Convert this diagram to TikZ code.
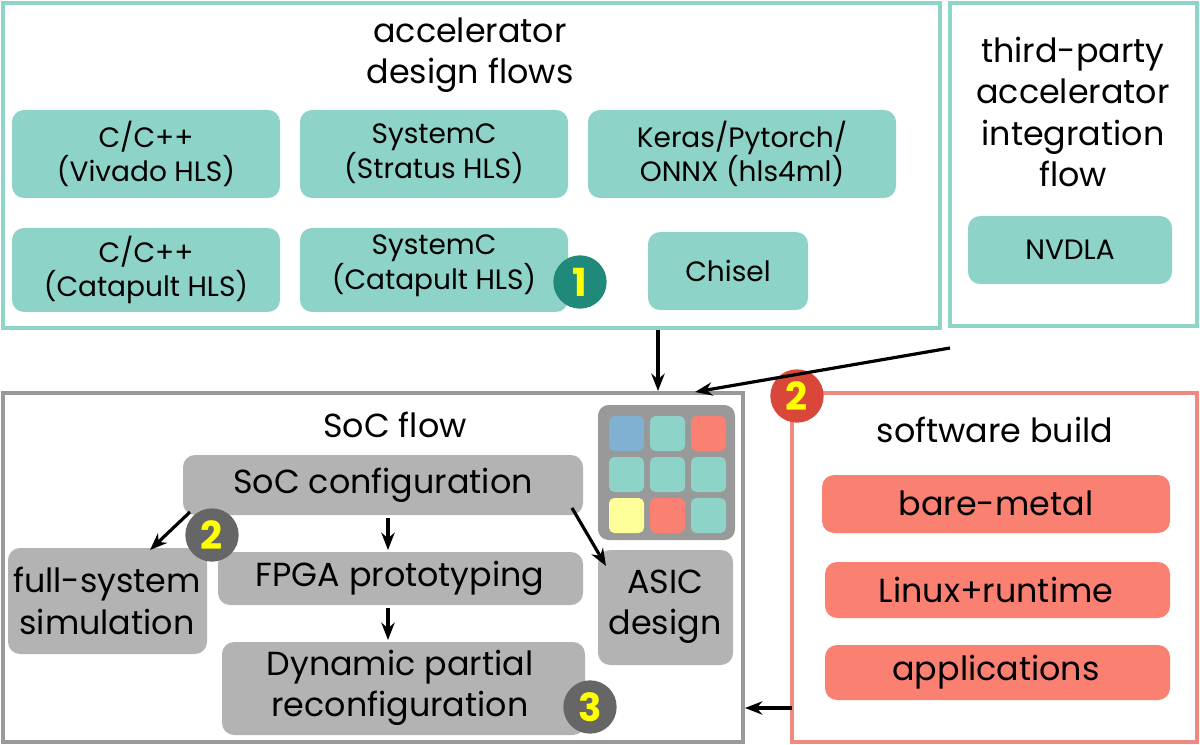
\documentclass[tikz,border=0pt]{standalone}
\usepackage{fontspec}
\setmainfont{Poppins}
\usetikzlibrary{arrows.meta}
\definecolor{teal1}{HTML}{8DD3C7}
\definecolor{tealb}{HTML}{8FD4C8}
\definecolor{gry}{HTML}{B3B3B3}
\definecolor{grb}{HTML}{999999}
\definecolor{sal}{HTML}{FA8072}
\definecolor{salb}{HTML}{F08A80}
\definecolor{bl}{HTML}{80B1D3}
\definecolor{yl}{HTML}{FFFF99}
\definecolor{ylt}{HTML}{FFFF00}
\definecolor{dteal}{HTML}{1F8A7A}
\definecolor{dgray}{HTML}{666666}
\definecolor{dred}{HTML}{D9473A}
\begin{document}
\begin{tikzpicture}[x=0.75pt,y=-0.75pt,
 frame/.style={draw=#1,line width=3pt},
 tbox/.style={fill=teal1,rounded corners=9pt,inner sep=0pt},
 gbox/.style={fill=gry,rounded corners=9pt,inner sep=0pt},
 sbox/.style={fill=sal,rounded corners=9pt,inner sep=0pt},
 lbl/.style={align=center,font=\fontsize{21}{25}\selectfont},
 big/.style={align=center,font=\fontsize{25}{31}\selectfont},
 badge/.style={circle,fill=#1,minimum size=40pt,inner sep=0pt,text=ylt,font=\fontsize{29}{29}\selectfont\bfseries},
 arr/.style={-{Stealth[length=13pt,width=10pt]},line width=2.4pt}]
\useasboundingbox (0,0) rectangle (1200,745);
% accelerator design flows
\draw[frame=tealb] (3,3) rectangle (940,328);
\node[big] (acct) at (470,55) {accelerator\\design flows};
\fill[tbox] (12,110) rectangle (280,198); \node[lbl] (a1) at (146,154) {C/C++\\(Vivado HLS)};
\fill[tbox] (300,110) rectangle (568,198); \node[lbl] (a2) at (434,154) {SystemC\\(Stratus HLS)};
\fill[tbox] (588,110) rectangle (896,198); \node[lbl] (a3) at (742,154) {Keras/Pytorch/\\ONNX (hls4ml)};
\fill[tbox] (12,228) rectangle (280,312); \node[lbl] (a4) at (146,270) {C/C++\\(Catapult HLS)};
\fill[tbox] (300,228) rectangle (568,312); \node[lbl] (a5) at (434,266) {SystemC\\(Catapult HLS)};
\fill[tbox] (648,232) rectangle (808,310); \node[lbl] (a6) at (728,271) {Chisel};
\node[badge=dteal] (b1) at (580,282) {1};
% third party
\draw[frame=tealb] (950,3) rectangle (1197,326);
\node[big] (tpt) at (1073,112) {third-party\\accelerator\\integration\\flow};
\fill[tbox] (968,216) rectangle (1172,284); \node[lbl] (nv) at (1070,250) {NVDLA};
% SoC
\draw[frame=grb] (3,393) rectangle (743,742);
\node[big] (soct) at (395,425) {SoC flow};
\fill[grb,rounded corners=8pt] (598,405) rectangle (735,540);
\foreach \c [count=\i from 0] in {bl,teal1,sal,teal1,teal1,teal1,yl,sal,teal1}{
 \pgfmathtruncatemacro{\cx}{mod(\i,3)}\pgfmathtruncatemacro{\cy}{div(\i,3)}
 \fill[\c,rounded corners=4pt] (609+\cx*41,416+\cy*41) rectangle ++(35,35);}
\fill[gbox] (183,455) rectangle (583,515); \node[big] (cfg) at (383,485) {SoC configuration};
\fill[gbox] (8,548) rectangle (207,654); \node[big] (sim) at (107,601) {full-system\\simulation};
\fill[gbox] (218,552) rectangle (583,605); \node[big] (fpga) at (400,578) {FPGA prototyping};
\fill[gbox] (598,550) rectangle (733,665); \node[big] (asic) at (665,607) {ASIC\\design};
\fill[gbox] (222,642) rectangle (585,735); \node[big] (dpr) at (400,688) {Dynamic partial\\reconfiguration};
\node[badge=dgray] (b2) at (212,535) {2};
\node[badge=dgray] (b3) at (590,707) {3};
% software
\draw[frame=salb] (792,393) rectangle (1197,742);
\node[big] (swt) at (995,430) {software build};
\fill[sbox] (822,475) rectangle (1170,533); \node[big] (s1) at (996,503) {bare-metal};
\fill[sbox] (825,562) rectangle (1170,618); \node[big] (s2) at (996,590) {Linux+runtime};
\fill[sbox] (825,645) rectangle (1170,700); \node[big] (s3) at (996,672) {applications};
\node[badge=dred] (b4) at (797,396) {2};
% arrows
\coordinate (p1) at (658,330); \coordinate (p2) at (658,391);
\coordinate (q1) at (950,348); \coordinate (q2) at (695,392);
\coordinate (r1) at (792,708); \coordinate (r2) at (745,708);
\coordinate (c1) at (190,512); \coordinate (c2) at (150,550);
\coordinate (d1) at (388,518); \coordinate (d2) at (388,550);
\coordinate (e1) at (388,608); \coordinate (e2) at (388,640);
\coordinate (f1) at (572,508); \coordinate (f2) at (606,566);
\draw[arr] (p1) -- (p2);
\draw[arr] (q1) -- (q2);
\draw[arr] (r1) -- (r2);
\draw[arr] (c1) -- (c2);
\draw[arr] (d1) -- (d2);
\draw[arr] (e1) -- (e2);
\draw[arr] (f1) -- (f2);
\end{tikzpicture}
\end{document}
